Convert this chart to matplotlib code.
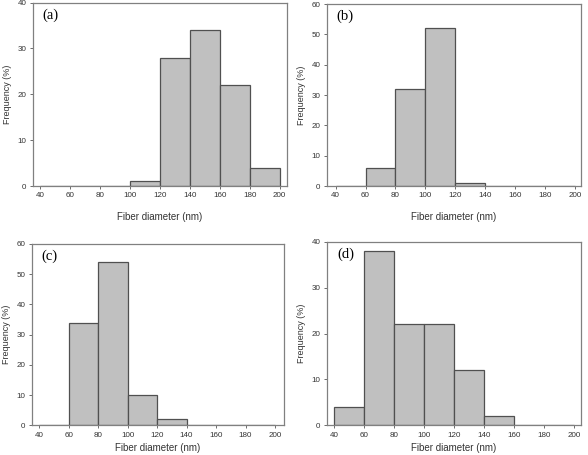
import numpy as np
import matplotlib
matplotlib.use("Agg")
import matplotlib.pyplot as plt

# bin left edges (nm) and frequencies (%)
bins = [40, 60, 80, 100, 120, 140, 160, 180]
freq_a = [0, 0, 0, 1, 28, 34, 22, 4]
freq_b = [0, 6, 32, 52, 1, 0, 0, 0]
freq_c = [0, 34, 54, 10, 2, 0, 0, 0]
freq_d = [4, 38, 22, 22, 12, 2, 0, 0]
labels = ["(a)", "(b)", "(c)", "(d)"]
ymax = [40, 60, 60, 40]
xticks = [40, 60, 80, 100, 120, 140, 160, 180, 200]

plt.rcParams['font.family'] = ['Liberation Sans', 'DejaVu Sans']

fig = plt.figure(figsize=(5.88, 4.55), dpi=100)
boxes = [
    [0.0556, 0.5912, 0.4325, 0.403],
    [0.5556, 0.5912, 0.432, 0.400],
    [0.0539, 0.0653, 0.429, 0.3985],
    [0.5556, 0.0653, 0.433, 0.403],
]
xlims = [(35, 205), (34, 204), (35, 206), (35, 205)]
# bottom row labels sit at the very edge of the figure
xlabel_pad = [9, 9, 3, 3]

for i, f in enumerate([freq_a, freq_b, freq_c, freq_d]):
    ax = fig.add_axes(boxes[i])
    ax.bar(bins, f, width=20, align='edge', color='#c0c0c0',
           edgecolor='#505050', linewidth=0.9)
    ax.set_xlim(*xlims[i])
    ax.set_ylim(0, ymax[i])
    ax.set_xticks(xticks)
    ax.set_yticks(np.arange(0, ymax[i] + 1, 10))
    ax.tick_params(labelsize=5.8, length=2, width=0.6, color='#555555',
                   labelcolor='#333333', pad=2.5)
    for s in ax.spines.values():
        s.set_color('#808080')
        s.set_linewidth(0.9)
    ax.set_xlabel('Fiber diameter (nm)', fontsize=7, color='#333333',
                  labelpad=xlabel_pad[i])
    ax.set_ylabel('Frequency (%)', fontsize=6.5, color='#333333', labelpad=4)
    ax.text(0.04, 0.97, labels[i], transform=ax.transAxes, ha='left', va='top',
            fontsize=10.5, family=['Liberation Serif', 'DejaVu Serif'])

fig.savefig('out.png', dpi=100)
